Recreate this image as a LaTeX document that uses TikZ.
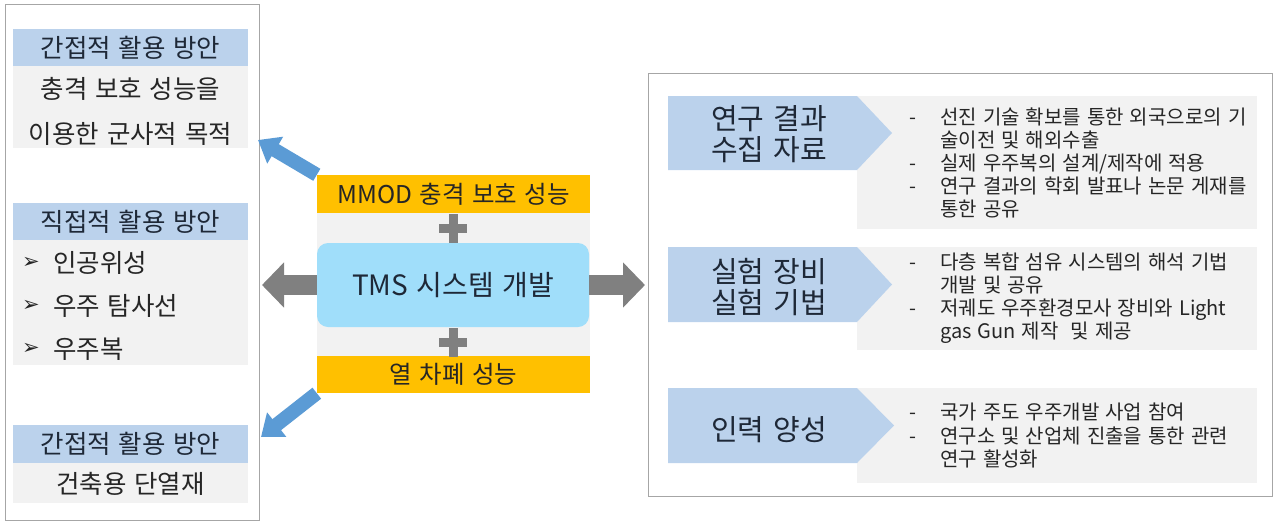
\documentclass[tikz,border=0pt]{standalone}
\usepackage{fontspec}
\setmainfont{Noto Sans CJK KR}[WordSpace=1.35]
\newfontfamily\symfont{DejaVu Sans}
\usetikzlibrary{arrows.meta}

\definecolor{hdrblue}{RGB}{187,210,236}
\definecolor{panelgray}{RGB}{242,242,242}
\definecolor{tmsorange}{RGB}{255,192,0}
\definecolor{tmscyan}{RGB}{160,222,250}
\definecolor{arrowblue}{RGB}{91,155,213}
\definecolor{arrowgray}{RGB}{128,128,128}
\definecolor{framegray}{RGB}{166,166,166}
\definecolor{txtnavy}{RGB}{30,40,55}
\definecolor{txtdark}{RGB}{38,38,38}

\def\plussign(#1,#2){\fill[arrowgray] (#1-14,#2-4.5) rectangle (#1+14,#2+4.5); \fill[arrowgray] (#1-4.5,#2-14.5) rectangle (#1+4.5,#2+14.5);}

\tikzset{
  hdr/.style={fill=hdrblue, minimum width=235pt, minimum height=37pt, inner sep=0pt, text=txtnavy, font=\fontsize{25.5}{30}\selectfont},
  lefttxt/.style={inner sep=0pt, text=txtdark, font=\fontsize{25.5}{30}\selectfont},
  bulletmark/.style={inner sep=0pt, text=txtdark, font=\symfont\fontsize{21}{24}\selectfont},
  midbar/.style={fill=tmsorange, minimum width=273pt, minimum height=38pt, inner sep=0pt, text=txtdark, font=\fontsize{24.5}{28}\selectfont},
  tmsbox/.style={fill=tmscyan, rounded corners=11pt, minimum width=272pt, minimum height=84pt, inner sep=0pt, text=txtnavy, font=\fontsize{28}{32}\selectfont},
  tagtxt/.style={inner sep=0pt, align=center, text=txtnavy, font=\fontsize{29}{31}\selectfont},
  itemtxt/.style={inner sep=0pt, anchor=base west, text=txtdark, font=\fontsize{20}{23}\selectfont},
  dashmark/.style={inner sep=0pt, anchor=base west, text=txtdark, font=\fontsize{20}{23}\selectfont},
  grayarrow/.style={draw=arrowgray, line width=20pt, -{Triangle[width=44pt,length=22pt]}},
  bluearrow/.style={draw=arrowblue, line width=14pt, -{Triangle[width=30pt,length=20pt]}}
}

\begin{document}
\begin{tikzpicture}[x=1pt,y=-1pt]
  \useasboundingbox (0,0) rectangle (1278,528);

  %%% left panel
  \draw[framegray] (5,4) rectangle (259,520);

  \fill[panelgray] (13,66) rectangle (248,148);
  \node[hdr] (ind1) at (130.5,47.5) {간접적 활용 방안};
  \node[lefttxt] (ind1a) at (130.5,89) {충격 보호 성능을};
  \node[lefttxt] (ind1b) at (130.5,134) {이용한 군사적 목적};

  \fill[panelgray] (13,240) rectangle (248,365);
  \node[hdr] (dir) at (130.5,221.5) {직접적 활용 방안};
  \node[bulletmark] (b1) at (31,263) {➢};
  \node[lefttxt, anchor=west] (dir1) at (53,263) {인공위성};
  \node[bulletmark] (b2) at (31,306) {➢};
  \node[lefttxt, anchor=west] (dir2) at (53,306) {우주 탐사선};
  \node[bulletmark] (b3) at (31,349) {➢};
  \node[lefttxt, anchor=west] (dir3) at (53,349) {우주복};

  \fill[panelgray] (13,463) rectangle (248,503);
  \node[hdr, minimum height=38pt] (ind2) at (130.5,444) {간접적 활용 방안};
  \node[lefttxt] (ind2a) at (130.5,484) {건축용 단열재};

  %%% centre
  \coordinate (uptip) at (258,140);
  \coordinate (downtip) at (261,437);
  \coordinate (lefttip) at (262,285);
  \coordinate (righttip) at (645,285);

  \fill[panelgray] (317,175) rectangle (590,393);
  \node[midbar] (mmod) at (453.5,194) {MMOD 충격 보호 성능};
  \node[midbar, minimum height=37pt] (heat) at (453.5,374.5) {열 차폐 성능};
  \node[tmsbox] (tms) at (453,285) {TMS 시스템 개발};
  \plussign(453,228)
  \plussign(453,342)

  \draw[bluearrow] (mmod.north west) -- (uptip);
  \draw[bluearrow] (heat.south west) -- (downtip);
  \draw[grayarrow] (tms.west) -- (lefttip);
  \draw[grayarrow] (tms.east) -- (righttip);

  %%% right panel
  \draw[framegray] (648,73) rectangle (1272,496);

  \fill[panelgray] (857,96) rectangle (1257,229);
  \fill[hdrblue] (668,96) -- (857,96) -- (892,133) -- (857,170) -- (668,170) -- cycle;
  \node[tagtxt] (res) at (769,134.5) {연구 결과\\수집 자료};
  \node[dashmark] (d11) at (909,124) {-};
  \node[itemtxt] (r11) at (940,124) {선진 기술 확보를 통한 외국으로의 기};
  \node[itemtxt] (r12) at (940,147) {술이전 및 해외수출};
  \node[dashmark] (d12) at (909,170) {-};
  \node[itemtxt] (r13) at (940,170) {실제 우주복의 설계/제작에 적용};
  \node[dashmark] (d13) at (909,193) {-};
  \node[itemtxt] (r14) at (940,193) {연구 결과의 학회 발표나 논문 게재를};
  \node[itemtxt] (r15) at (940,216) {통한 공유};

  \fill[panelgray] (857,247) rectangle (1257,350);
  \fill[hdrblue] (668,247) -- (857,247) -- (892,284.5) -- (857,322) -- (668,322) -- cycle;
  \node[tagtxt] (exp) at (769,287) {실험 장비\\실험 기법};
  \node[dashmark] (d21) at (909,269) {-};
  \node[itemtxt] (r21) at (940,269) {다층 복합 섬유 시스템의 해석 기법};
  \node[itemtxt] (r22) at (940,292) {개발 및 공유};
  \node[dashmark] (d22) at (909,315) {-};
  \node[itemtxt] (r23) at (940,315) {저궤도 우주환경모사 장비와 Light};
  \node[itemtxt] (r24) at (940,338) {gas Gun 제작~~및 제공};

  \fill[panelgray] (857,388) rectangle (1257,483);
  \fill[hdrblue] (668,388) -- (857,388) -- (894,425.5) -- (857,463) -- (668,463) -- cycle;
  \node[tagtxt] (hr) at (769,430) {인력 양성};
  \node[dashmark] (d31) at (909,419) {-};
  \node[itemtxt] (r31) at (940,419) {국가 주도 우주개발 사업 참여};
  \node[dashmark] (d32) at (909,443) {-};
  \node[itemtxt] (r32) at (940,443) {연구소 및 산업체 진출을 통한 관련};
  \node[itemtxt] (r33) at (940,466) {연구 활성화};
\end{tikzpicture}
\end{document}
